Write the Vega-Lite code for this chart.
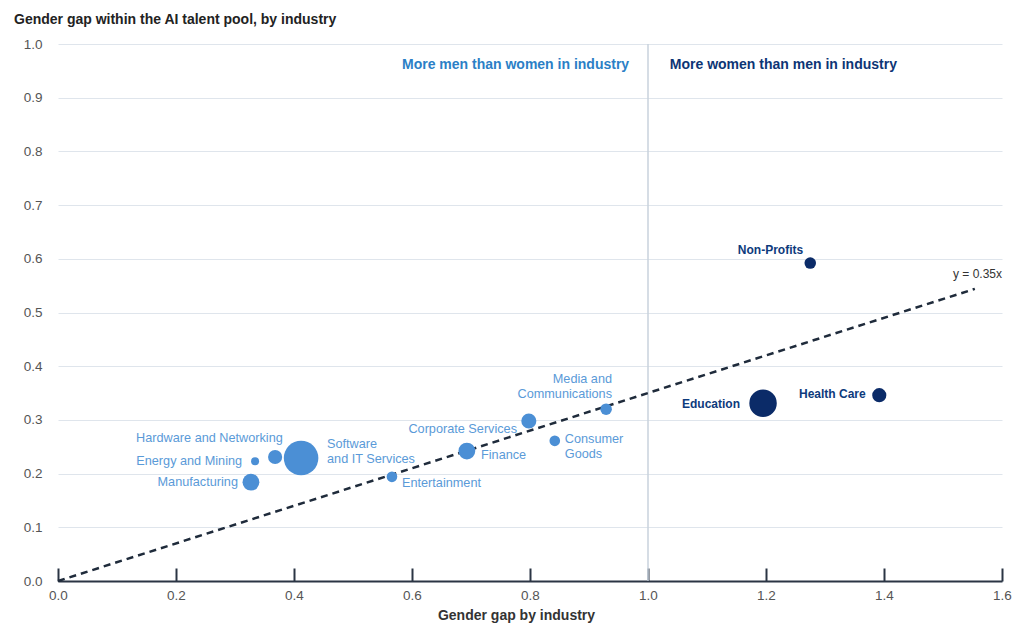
{
  "$schema": "https://vega.github.io/schema/vega-lite/v6.json",
  "width": 944,
  "height": 537,
  "autosize": {"type": "none"},
  "padding": {"left": 58, "top": 44, "right": 22, "bottom": 47},
  "background": "white",
  "config": {
    "font": "Liberation Sans",
    "view": {"stroke": null}
  },
  "title": {
    "text": "Gender gap within the AI talent pool, by industry",
    "anchor": "start",
    "frame": "group",
    "dx": -44,
    "offset": 10,
    "fontSize": 14,
    "fontWeight": "bold",
    "color": "#222222",
    "font": "Liberation Sans"
  },
  "datasets": {
    "points": [
      {"industry": "Non-Profits", "gap": 1.275, "ai_gap": 0.592, "pool": 133, "side": "women"},
      {"industry": "Health Care", "gap": 1.392, "ai_gap": 0.346, "pool": 200, "side": "women"},
      {"industry": "Education", "gap": 1.195, "ai_gap": 0.331, "pool": 755, "side": "women"},
      {"industry": "Media and Communications", "gap": 0.929, "ai_gap": 0.32, "pool": 133, "side": "men"},
      {"industry": "Corporate Services", "gap": 0.798, "ai_gap": 0.298, "pool": 227, "side": "men"},
      {"industry": "Consumer Goods", "gap": 0.842, "ai_gap": 0.261, "pool": 113, "side": "men"},
      {"industry": "Finance", "gap": 0.693, "ai_gap": 0.242, "pool": 283, "side": "men"},
      {"industry": "Entertainment", "gap": 0.566, "ai_gap": 0.194, "pool": 113, "side": "men"},
      {"industry": "Software and IT Services", "gap": 0.412, "ai_gap": 0.229, "pool": 1195, "side": "men"},
      {"industry": "Hardware and Networking", "gap": 0.368, "ai_gap": 0.231, "pool": 200, "side": "men"},
      {"industry": "Energy and Mining", "gap": 0.334, "ai_gap": 0.223, "pool": 64, "side": "men"},
      {"industry": "Manufacturing", "gap": 0.327, "ai_gap": 0.184, "pool": 283, "side": "men"}
    ],
    "labels": [
      {"label": "Software\nand IT Services", "lx": 0.456, "ly": 0.255},
      {"label": "Entertainment", "lx": 0.583, "ly": 0.1825},
      {"label": "Finance", "lx": 0.717, "ly": 0.2346},
      {"label": "Consumer\nGoods", "lx": 0.859, "ly": 0.2644},
      {"label": "Hardware and Networking", "lx": 0.381, "ly": 0.266},
      {"label": "Energy and Mining", "lx": 0.312, "ly": 0.2235},
      {"label": "Manufacturing", "lx": 0.305, "ly": 0.184},
      {"label": "Corporate Services", "lx": 0.778, "ly": 0.283},
      {"label": "Media and\nCommunications", "lx": 0.939, "ly": 0.3762},
      {"label": "Non-Profits", "lx": 1.263, "ly": 0.616},
      {"label": "Education", "lx": 1.156, "ly": 0.33},
      {"label": "Health Care", "lx": 1.369, "ly": 0.348},
      {"label": "y = 0.35x", "lx": 1.6, "ly": 0.572},
      {"label": "More men than women in industry", "lx": 0.968, "ly": 0.961},
      {"label": "More women than men in industry", "lx": 1.037, "ly": 0.961}
    ],
    "divider": [{"gap": 1.0}],
    "trend": [{"gap": 0, "ai_gap": 0}, {"gap": 1.554, "ai_gap": 0.544}]
  },
  "encoding": {
    "x": {
      "type": "quantitative",
      "scale": {"domain": [0, 1.6], "nice": false},
      "axis": {
        "title": "Gender gap by industry",
        "values": [0, 0.2, 0.4, 0.6, 0.8, 1.0, 1.2, 1.4, 1.6],
        "format": ".1f",
        "grid": false,
        "labelFlush": false,
        "domainColor": "#2b3544",
        "domainWidth": 2,
        "tickColor": "#2b3544",
        "tickWidth": 2,
        "tickSize": -13,
        "labelPadding": 20,
        "labelFontSize": 13.5,
        "labelColor": "#555555",
        "titleFontSize": 14,
        "titleFontWeight": "bold",
        "titleColor": "#333333",
        "titlePadding": 7,
        "titleX": 458,
        "titleAlign": "center"
      }
    },
    "y": {
      "type": "quantitative",
      "scale": {"domain": [0, 1], "nice": false},
      "axis": {
        "title": null,
        "values": [0, 0.1, 0.2, 0.3, 0.4, 0.5, 0.6, 0.7, 0.8, 0.9, 1.0],
        "format": ".1f",
        "grid": true,
        "gridColor": "#dfe5ec",
        "gridWidth": 1,
        "domain": false,
        "ticks": false,
        "labelFlush": false,
        "labelPadding": 16,
        "labelFontSize": 13.5,
        "labelColor": "#555555"
      }
    }
  },
  "layer": [
    {
      "data": {"name": "divider"},
      "mark": {"type": "rule", "color": "#c9d2dc", "strokeWidth": 1.5},
      "encoding": {"x": {"field": "gap", "type": "quantitative"}}
    },
    {
      "data": {"name": "trend"},
      "mark": {"type": "line", "color": "#1f2b3b", "strokeWidth": 2.5, "strokeDash": [7, 5]},
      "encoding": {
        "x": {"field": "gap", "type": "quantitative"},
        "y": {"field": "ai_gap", "type": "quantitative"}
      }
    },
    {
      "data": {"name": "points"},
      "mark": {"type": "circle", "opacity": 1},
      "encoding": {
        "x": {"field": "gap", "type": "quantitative"},
        "y": {"field": "ai_gap", "type": "quantitative"},
        "size": {"field": "pool", "type": "quantitative", "scale": {"domain": [0, 1200], "range": [0, 1200]}, "legend": null},
        "color": {"field": "side", "type": "nominal", "scale": {"domain": ["men", "women"], "range": ["#4b8fd5", "#0b2b68"]}, "legend": null}
      }
    },
    {
      "data": {"name": "labels"},
      "transform": [{"filter": {"field": "label", "oneOf": ["Software\nand IT Services", "Entertainment", "Finance", "Consumer\nGoods"]}}],
      "mark": {"type": "text", "align": "left", "baseline": "middle", "fontSize": 12.7, "lineBreak": "\n", "lineHeight": 15, "color": "#5a9ad8"},
      "encoding": {
        "x": {"field": "lx", "type": "quantitative"},
        "y": {"field": "ly", "type": "quantitative"},
        "text": {"field": "label"}
      }
    },
    {
      "data": {"name": "labels"},
      "transform": [{"filter": {"field": "label", "oneOf": ["Hardware and Networking", "Energy and Mining", "Manufacturing", "Corporate Services", "Media and\nCommunications"]}}],
      "mark": {"type": "text", "align": "right", "baseline": "middle", "fontSize": 12.7, "lineBreak": "\n", "lineHeight": 15, "color": "#5a9ad8"},
      "encoding": {
        "x": {"field": "lx", "type": "quantitative"},
        "y": {"field": "ly", "type": "quantitative"},
        "text": {"field": "label"}
      }
    },
    {
      "data": {"name": "labels"},
      "transform": [{"filter": {"field": "label", "oneOf": ["Non-Profits", "Education", "Health Care"]}}],
      "mark": {"type": "text", "align": "right", "baseline": "middle", "fontSize": 12, "fontWeight": "bold", "color": "#0d3a7c"},
      "encoding": {
        "x": {"field": "lx", "type": "quantitative"},
        "y": {"field": "ly", "type": "quantitative"},
        "text": {"field": "label"}
      }
    },
    {
      "data": {"name": "labels"},
      "transform": [{"filter": {"field": "label", "equal": "y = 0.35x"}}],
      "mark": {"type": "text", "align": "right", "baseline": "middle", "fontSize": 12, "color": "#333333"},
      "encoding": {
        "x": {"field": "lx", "type": "quantitative"},
        "y": {"field": "ly", "type": "quantitative"},
        "text": {"field": "label"}
      }
    },
    {
      "data": {"name": "labels"},
      "transform": [{"filter": {"field": "label", "equal": "More men than women in industry"}}],
      "mark": {"type": "text", "align": "right", "baseline": "middle", "fontSize": 14, "fontWeight": "bold", "color": "#2b7fc6"},
      "encoding": {
        "x": {"field": "lx", "type": "quantitative"},
        "y": {"field": "ly", "type": "quantitative"},
        "text": {"field": "label"}
      }
    },
    {
      "data": {"name": "labels"},
      "transform": [{"filter": {"field": "label", "equal": "More women than men in industry"}}],
      "mark": {"type": "text", "align": "left", "baseline": "middle", "fontSize": 14, "fontWeight": "bold", "color": "#0d3575"},
      "encoding": {
        "x": {"field": "lx", "type": "quantitative"},
        "y": {"field": "ly", "type": "quantitative"},
        "text": {"field": "label"}
      }
    }
  ]
}
